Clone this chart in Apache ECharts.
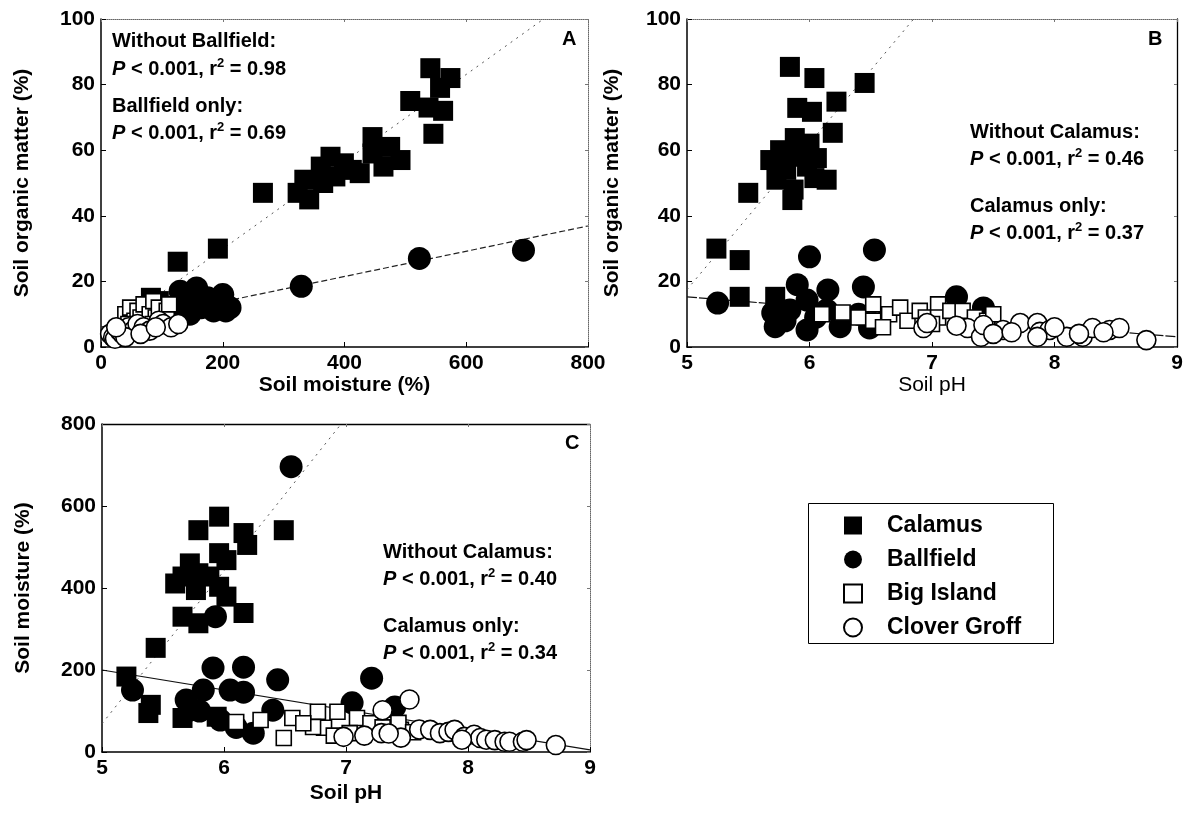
<!DOCTYPE html>
<html><head><meta charset="utf-8">
<script src="https://cdn.jsdelivr.net/npm/echarts@6/dist/echarts.min.js"></script>
<style>html,body{margin:0;padding:0;background:#fff}#c{width:1196px;height:831px}</style>
</head><body><div id="c"></div>
<script>
// ---- Panel A: soil moisture (%) vs soil organic matter (%)
const calamusA = [[82,15],[95,14],[126,26],[192,30],[266,47],[323,47],[342,45],[334,51],[361,55],[377,58],[399,56],[412,54],[446,59],[446,64],[475,61],[492,57],[464,55],[508,75],[541,85],[574,82],[557,79],[538,73],[562,72],[546,65],[385,52],[425,53],[365,50],[60,10],[75,12]];
const ballfieldA = [[130,17],[157,18],[175,15],[200,16],[212,12],[190,14],[146,10],[165,12],[120,9],[100,8],[80,6],[60,5],[185,11],[140,13],[329,18.5],[523,27],[694,29.5],[110,11],[205,11]];
const bigIslandA = [[40,10],[48,12],[55,8],[60,11],[65,9],[70,13],[75,7],[80,10],[86,14],[90,9],[95,12],[100,8],[108,11],[112,13],[60,6],[85,7],[45,7]];
const cloverA = [[15,4],[20,3],[23,2.5],[30,5],[35,4],[45,6],[53,5],[60,7],[70,6],[80,5],[95,8],[102,7],[115,6],[127,7],[40,3],[25,6],[65,4],[90,6]];
const fitA_without = [[0,3.3],[727,100]];
const fitA_ballfield = [[0,6.1],[800,36.9]];

// ---- Panel B: soil pH vs soil organic matter (%)
const calamusB = [[5.84,85.4],[6.04,82],[6.45,80.5],[6.22,74.8],[5.90,72.9],[6.02,71.7],[6.19,65.3],[5.88,63.7],[6.0,62],[5.68,57],[5.76,60],[5.90,58],[6.06,57.6],[5.81,54],[5.98,55],[5.73,51],[6.04,51.5],[6.14,51],[5.86,44.8],[5.87,48],[5.50,47],[5.24,30],[5.43,26.5],[5.43,15.3],[5.72,15.3]];
const ballfieldB = [[5.25,13.4],[6.0,27.5],[6.53,29.6],[5.90,19],[6.15,17.4],[6.44,18.3],[5.70,10.4],[5.72,6.2],[5.98,5.2],[5.98,14.3],[6.25,6.2],[6.49,5.8],[5.84,11.3],[6.14,11.3],[7.20,15.3],[7.42,11.9],[5.8,8],[6.05,9],[6.4,10]];
const bigIslandB = [[6.1,10],[6.27,10.5],[6.4,9],[6.52,13],[6.52,8],[6.65,10],[6.74,12],[6.8,8],[6.9,11],[6.95,9],[7.05,13],[7.05,9],[7.15,11],[7.25,11],[7.35,9],[7.45,8],[7.5,10],[6.6,6],[7.0,7]];
const cloverB = [[6.93,5.8],[6.96,7.3],[7.29,5.8],[7.4,3.1],[7.42,6.7],[7.58,5.2],[7.72,7.3],[7.86,7.3],[7.88,4.6],[7.96,5.2],[7.86,3.1],[8.1,3.1],[8.23,3.1],[8.31,5.8],[8.45,5.2],[8.53,5.8],[8.75,2.1],[7.5,4],[8.0,6],[8.2,4],[7.2,6.5],[8.4,4.5],[7.65,4.5]];
const fitB_without = [[5,15.3],[9,3.1]];
const fitB_calamus = [[5,17.5],[6.85,100]];

// ---- Panel C: soil pH vs soil moisture (%)
const calamusC = [[6.49,541],[5.96,574],[5.79,541],[6.16,534],[6.19,505],[5.96,485],[5.72,460],[6.02,468],[5.66,428],[5.79,436],[5.60,411],[5.77,395],[5.96,403],[6.02,379],[5.66,330],[5.79,314],[6.16,339],[5.88,428],[5.44,254],[5.20,184],[5.40,115],[5.38,95],[5.66,83],[5.94,86]];
const ballfieldC = [[6.55,696],[5.91,205],[6.16,207],[6.44,176],[5.83,151],[6.05,151],[6.16,146],[5.25,151],[5.69,127],[5.72,102],[5.97,78],[6.24,46],[6.40,102],[5.93,330],[7.21,180],[7.05,120],[7.4,110],[5.8,100],[6.1,60]];
const bigIslandC = [[6.10,73],[6.30,78],[6.56,83],[6.49,34],[6.77,98],[6.82,59],[6.93,98],[7.09,83],[6.73,61],[7.03,46],[7.45,54],[7.43,71],[7.2,70],[7.3,60],[6.65,70],[7.55,48],[6.9,40]];
const cloverC = [[6.98,37],[7.15,40],[7.3,102],[7.29,46],[7.52,128],[7.45,35],[7.6,55],[7.69,54],[7.77,46],[7.84,49],[7.89,54],[7.97,37],[8.05,42],[8.1,34],[8.15,30],[8.22,29],[8.3,25],[8.34,25],[8.45,25],[8.48,29],[8.72,17],[7.35,45],[7.95,30]];
const fitC_without = [[5,200],[9,5]];
const fitC_calamus = [[5,69],[6.96,800]];

const siteNames = ['Calamus','Ballfield','Big Island','Clover Groff'];
const FONT = '"Liberation Sans", Arial, Helvetica, sans-serif';

const chart = echarts.init(document.getElementById('c'));

const grids = [
  {left:101, top:19, width:487, height:328},
  {left:687, top:19, width:490, height:328},
  {left:102, top:424, width:488, height:328}
];

function mainAxis(dim, gi, min, max, interval, name, nameGap, weight){
  return {
    type:'value', gridIndex:gi, min:min, max:max, interval:interval,
    position: dim==='x' ? 'bottom' : 'left',
    name:name, nameLocation:'middle', nameGap:nameGap,
    nameTextStyle:{fontFamily:FONT, fontSize:21, fontWeight:weight, color:'#000'},
    axisLine:{show:true, onZero:false, lineStyle:{color:'#000', width:1.5}},
    axisTick:{show:true, inside:true, length:5, lineStyle:{color:'#000', width:1}},
    axisLabel:{fontFamily:FONT, fontSize:21, fontWeight:'bold', color:'#000', margin:6},
    splitLine:{show:false}
  };
}
function frameAxis(dim, gi, min, max, interval, solid){
  return {
    type:'value', gridIndex:gi, min:min, max:max, interval:interval,
    position: dim==='x' ? 'top' : 'right',
    axisLine:{show:true, onZero:false, lineStyle:{color: solid ? '#000' : '#666', width: solid ? 1.3 : 1, type: solid ? 'solid' : 'dotted'}},
    axisTick:{show:true, inside:true, length:3, lineStyle:{color:'#777'}},
    axisLabel:{show:false}, splitLine:{show:false}
  };
}

const xAxes = [
  mainAxis('x',0,0,800,200,'Soil moisture (%)',25,'bold'), frameAxis('x',0,0,800,200,false),
  mainAxis('x',1,5,9,1,'Soil pH',25,'normal'), frameAxis('x',1,5,9,1,false),
  mainAxis('x',2,5,9,1,'Soil pH',31,'bold'), frameAxis('x',2,5,9,1,true)
];
const yAxes = [
  mainAxis('y',0,0,100,20,'Soil organic matter (%)',68,'bold'), frameAxis('y',0,0,100,20,false),
  mainAxis('y',1,0,100,20,'Soil organic matter (%)',64,'bold'), frameAxis('y',1,0,100,20,true),
  mainAxis('y',2,0,800,200,'Soil moisture (%)',68,'bold'), frameAxis('y',2,0,800,200,false)
];

const markerStyles = [
  {symbol:'rect', symbolSize:20, itemStyle:{color:'#000', opacity:1, borderColor:'#000', borderWidth:0}},
  {symbol:'circle', symbolSize:23, itemStyle:{color:'#000', opacity:1, borderColor:'#000', borderWidth:0}},
  {symbol:'rect', symbolSize:15, itemStyle:{color:'#fff', opacity:1, borderColor:'#000', borderWidth:1.6}},
  {symbol:'circle', symbolSize:19, itemStyle:{color:'#fff', opacity:1, borderColor:'#000', borderWidth:1.6}}
];

const panelData = [
  [calamusA, ballfieldA, bigIslandA, cloverA],
  [calamusB, ballfieldB, bigIslandB, cloverB],
  [calamusC, ballfieldC, bigIslandC, cloverC]
];
const panelFits = [
  [{d:fitA_without, st:{color:'#555', width:1, type:[2,5]}}, {d:fitA_ballfield, st:{color:'#222', width:1.2, type:[6,3]}}],
  [{d:fitB_without, st:{color:'#111', width:1.2, type:[10,2]}}, {d:fitB_calamus, st:{color:'#555', width:1, type:[2,5]}}],
  [{d:fitC_without, st:{color:'#111', width:1.2, type:'solid'}}, {d:fitC_calamus, st:{color:'#555', width:1, type:[2,5]}}]
];

const series = [];
for (let p=0; p<3; p++){
  panelFits[p].forEach((f,k)=>{
    series.push({type:'line', name:'fit'+p+k, xAxisIndex:p*2, yAxisIndex:p*2, data:f.d,
      symbol:'none', showSymbol:false, lineStyle:f.st, silent:true, z:1, animation:false});
  });
  panelData[p].forEach((d,s)=>{
    series.push(Object.assign({type:'scatter', name:siteNames[s], xAxisIndex:p*2, yAxisIndex:p*2,
      data:d, z:2+s, animation:false}, markerStyles[s]));
  });
}

const rich = {
  n:{fontFamily:FONT, fontSize:20, fontWeight:'bold', fill:'#000', lineHeight:24},
  i:{fontFamily:FONT, fontSize:20, fontWeight:'bold', fontStyle:'italic', fill:'#000', lineHeight:24},
  s:{fontFamily:FONT, fontSize:13, fontWeight:'bold', fill:'#000', lineHeight:24, verticalAlign:'top'}
};
function textEl(left, top, str){
  return {type:'text', left:left, top:top, z:50, style:{text:str, rich:rich, fill:'#000'}};
}
function stat(r){ return '{i|P}{n| < 0.001, r}{s|2}{n| = '+r+'}'; }

const graphic = [
  textEl(112,31,'{n|Without Ballfield:}'), textEl(112,57,stat('0.98')),
  textEl(112,96,'{n|Ballfield only:}'), textEl(112,121,stat('0.69')),
  textEl(562,29,'{n|A}'),
  textEl(1148,29,'{n|B}'),
  textEl(970,122,'{n|Without Calamus:}'), textEl(970,147,stat('0.46')),
  textEl(970,196,'{n|Calamus only:}'), textEl(970,221,stat('0.37')),
  textEl(565,433,'{n|C}'),
  textEl(383,542,'{n|Without Calamus:}'), textEl(383,567,stat('0.40')),
  textEl(383,616,'{n|Calamus only:}'), textEl(383,641,stat('0.34')),
  {type:'rect', left:808, top:503, z:0, shape:{width:245, height:140}, style:{fill:'#fff', stroke:'#000', lineWidth:1}}
];

chart.setOption({
  backgroundColor:'#fff',
  animation:false,
  grid: grids,
  xAxis: xAxes,
  yAxis: yAxes,
  legend: {
    data:[{name:'Calamus', icon:'rect'},{name:'Ballfield', icon:'circle'},{name:'Big Island', icon:'rect'},{name:'Clover Groff', icon:'circle'}],
    orient:'vertical', left:838, top:509, itemWidth:18, itemHeight:18, itemGap:11,
    selectedMode:false, z:10,
    textStyle:{fontFamily:FONT, fontSize:23, fontWeight:'bold', color:'#000', padding:[0,0,0,20]}
  },
  graphic: graphic,
  series: series
});
</script>
</body></html>
